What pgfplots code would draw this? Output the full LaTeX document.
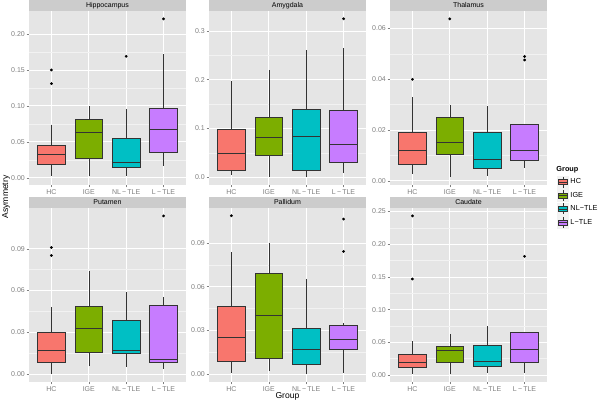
\documentclass[border=0pt]{standalone}
\usepackage{fontspec}
\setmainfont{Liberation Sans}
\usepackage{pgfplots}
\pgfplotsset{compat=1.18}
\usepgfplotslibrary{statistics}

\definecolor{panelbg}{HTML}{E5E5E5}
\definecolor{minorgrid}{HTML}{F2F2F2}
\definecolor{stripbg}{HTML}{CCCCCC}
\definecolor{tickgrey}{HTML}{7F7F7F}
\definecolor{grey20}{HTML}{333333}
\definecolor{cHC}{HTML}{F8766D}
\definecolor{cIGE}{HTML}{7CAE00}
\definecolor{cNL}{HTML}{00BFC4}
\definecolor{cL}{HTML}{C77CFF}

\pgfplotsset{
  facet/.style={
    scale only axis, width=157pt, height=174pt,
    xmin=0.4, xmax=4.6,
    xtick={1,2,3,4}, xticklabels={HC,IGE,NL\,−\,TLE,L\,−\,TLE},
    axis background/.style={fill=panelbg},
    axis lines*=left, axis line style={draw=none},
    grid=both,
    major grid style={white, line width=0.9pt},
    minor grid style={minorgrid, line width=0.5pt},
    minor y tick num=1,
    tick style={tickgrey, line width=0.5pt},
    tick align=outside, major tick length=2.5pt, minor tick length=0pt,
    ticklabel style={font=\fontsize{7}{8}\selectfont, text=tickgrey},
    xticklabel style={inner sep=1.5pt},
    yticklabel style={inner sep=1.5pt},
    /pgf/number format/assume math mode=true,
    /pgf/number format/fixed, /pgf/number format/fixed zerofill,
    /pgf/number format/precision=2,
    scaled y ticks=false,
    every axis title shift=0pt,
    title style={at={(0.5,1)}, anchor=south, yshift=0pt, fill=stripbg, minimum width=157pt,
      minimum height=11pt, inner sep=0pt, font=\fontsize{7}{8}\selectfont},
    boxplot/draw direction=y,
    boxplot/box extend=0.74,
    boxplot/whisker extend=0,
    boxplot/every whisker/.style={draw=grey20, line width=0.5pt},
    boxplot/every median/.style={draw=grey20, line width=1pt},
  },
  grp/.style={
    mark=*, mark size=1.2pt, mark options={fill=black, draw=black},
    boxplot/every box/.style={draw=grey20, line width=0.5pt, fill=#1},
    legend image code/.code={
      \fill[minorgrid] (-1pt,-6pt) rectangle (10pt,6pt);
      \draw[grey20, line width=0.5pt] (4.5pt,2.5pt)--(4.5pt,5.5pt) (4.5pt,-2.5pt)--(4.5pt,-5.5pt);
      \filldraw[fill=#1, draw=grey20, line width=0.5pt] (0pt,-2.5pt) rectangle (9pt,2.5pt);
      \draw[grey20, line width=0.8pt] (0pt,0pt)--(9pt,0pt);
    },
  },
}

% position, colour, lower whisker, lower quartile, median, upper quartile, upper whisker, outliers
\newcommand{\bx}[8]{%
  \addplot[grp=#2, boxplot prepared={draw position=#1, lower whisker=#3,
    lower quartile=#4, median=#5, upper quartile=#6, upper whisker=#7}]
    coordinates {#8};}

\begin{document}
\begin{tikzpicture}
\useasboundingbox (0,0) rectangle (600pt,403pt);

% Hippocampus
\begin{axis}[facet, at={(29pt,392pt)}, anchor=north west, title={Hippocampus},
  ymin=-0.0099, ymax=0.232, ytick={0,0.05,0.1,0.15,0.2}]
\bx{1}{cHC}{0.003}{0.019}{0.032}{0.046}{0.073}{(1,0.131) (1,0.150)}
\bx{2}{cIGE}{0.003}{0.027}{0.063}{0.081}{0.100}{}
\bx{3}{cNL}{0.002}{0.015}{0.021}{0.055}{0.096}{(3,0.169)}
\bx{4}{cL}{0.017}{0.035}{0.067}{0.097}{0.172}{(4,0.221)}
\end{axis}

% Amygdala
\begin{axis}[facet, at={(209pt,392pt)}, anchor=north west, title={Amygdala},
  ymin=-0.016, ymax=0.341, ytick={0,0.1,0.2,0.3},
  yticklabel style={/pgf/number format/precision=1}]
\bx{1}{cHC}{0.004}{0.014}{0.049}{0.099}{0.198}{}
\bx{2}{cIGE}{0.000}{0.045}{0.082}{0.123}{0.220}{}
\bx{3}{cNL}{0.000}{0.014}{0.083}{0.139}{0.261}{}
\bx{4}{cL}{0.008}{0.031}{0.067}{0.137}{0.266}{(4,0.325)}
\end{axis}

% Thalamus (carries the legend)
\begin{axis}[facet, at={(390pt,392pt)}, anchor=north west, title={Thalamus},
  ymin=-0.0016, ymax=0.0669, ytick={0,0.02,0.04,0.06},
  legend style={at={(1.063,0.12)}, anchor=north west, draw=none, fill=none,
    font=\fontsize{7.3}{8}\selectfont, row sep=1pt, inner sep=0pt,
    cells={anchor=west}}]
\addlegendimage{empty legend}
\addlegendentry{\hspace*{-14pt}\textbf{Group}}
\bx{1}{cHC}{0.0029}{0.0067}{0.0118}{0.0192}{0.0331}{(1,0.040)}
\addlegendentry{HC}
\bx{2}{cIGE}{0.0016}{0.0104}{0.0151}{0.0252}{0.0299}{(2,0.0638)}
\addlegendentry{IGE}
\bx{3}{cNL}{0.0021}{0.0051}{0.0084}{0.0193}{0.0295}{}
\addlegendentry{NL−TLE}
\bx{4}{cL}{0.0052}{0.0080}{0.0121}{0.0224}{0.0226}{(4,0.0476) (4,0.0490)}
\addlegendentry{L−TLE}
\end{axis}

% Putamen
\begin{axis}[facet, at={(29pt,195pt)}, anchor=north west, title={Putamen},
  ymin=-0.0057, ymax=0.1193, ytick={0,0.03,0.06,0.09}]
\bx{1}{cHC}{0.000}{0.0084}{0.0172}{0.0303}{0.0484}{(1,0.0852) (1,0.0909)}
\bx{2}{cIGE}{0.006}{0.016}{0.0329}{0.0484}{0.074}{}
\bx{3}{cNL}{0.0053}{0.0146}{0.0172}{0.0387}{0.0587}{}
\bx{4}{cL}{0.0038}{0.0088}{0.0105}{0.0494}{0.0551}{(4,0.1136)}
\end{axis}

% Pallidum
\begin{axis}[facet, at={(209pt,195pt)}, anchor=north west, title={Pallidum},
  ymin=-0.0054, ymax=0.114, ytick={0,0.03,0.06,0.09},
  xlabel={Group}, xlabel style={font=\fontsize{8.6}{9}\selectfont, yshift=4pt}]
\bx{1}{cHC}{0.0005}{0.0087}{0.0252}{0.0463}{0.0835}{(1,0.1087)}
\bx{2}{cIGE}{0.002}{0.0112}{0.0404}{0.0695}{0.090}{}
\bx{3}{cNL}{0.000}{0.0067}{0.0172}{0.0312}{0.0651}{}
\bx{4}{cL}{0.0005}{0.0170}{0.0239}{0.0337}{0.0351}{(4,0.0842) (4,0.1064)}
\end{axis}

% Caudate
\begin{axis}[facet, at={(390pt,195pt)}, anchor=north west, title={Caudate},
  ymin=-0.0106, ymax=0.2555, ytick={0,0.05,0.1,0.15,0.2,0.25}]
\bx{1}{cHC}{0.002}{0.0117}{0.0189}{0.0316}{0.052}{(1,0.1469) (1,0.2434)}
\bx{2}{cIGE}{0.0015}{0.0189}{0.0372}{0.0444}{0.0622}{}
\bx{3}{cNL}{0.003}{0.0128}{0.0214}{0.0449}{0.0745}{}
\bx{4}{cL}{0.003}{0.0199}{0.0398}{0.0648}{0.0663}{(4,0.1816)}
\end{axis}

\node[rotate=90, font=\fontsize{8.6}{9}\selectfont] at (6pt,206pt) {Asymmetry};
\end{tikzpicture}
\end{document}
